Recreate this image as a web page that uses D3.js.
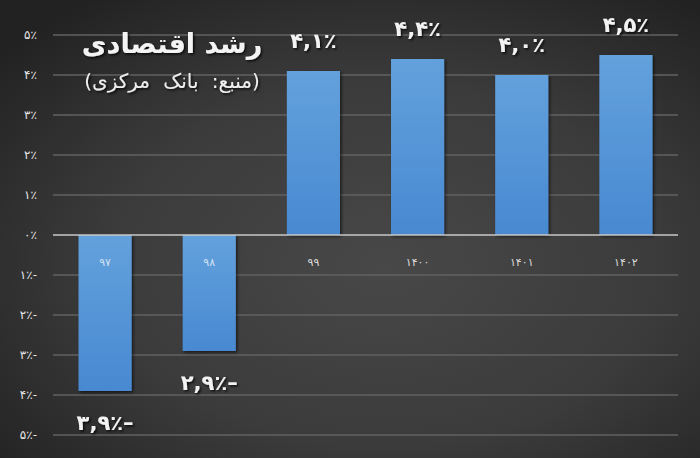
<!DOCTYPE html>
<html><head><meta charset="utf-8">
<script src="https://cdn.jsdelivr.net/npm/d3@7"></script>
<style>
html,body{margin:0;padding:0;background:#333;}
svg{display:block;}
</style></head>
<body>
<svg id="chart" width="700" height="458"></svg>
<script>
const categories = ["۹۷","۹۸","۹۹","۱۴۰۰","۱۴۰۱","۱۴۰۲"];
const values = [-3.9, -2.9, 4.1, 4.4, 4.0, 4.5];
const valueLabels = ["۳,۹٪–","۲,۹٪–","۴,۱٪","۴,۴٪","۴,۰٪","۴,۵٪"];
const tickValues = [5,4,3,2,1,0,-1,-2,-3,-4,-5];
const tickLabels = ["۵٪","۴٪","۳٪","۲٪","۱٪","۰٪","۱٪-","۲٪-","۳٪-","۴٪-","۵٪-"];
const title = "رشد اقتصادی";
const subtitle = "(منبع: بانک مرکزی)";

const W = 700, H = 458;
const svg = d3.select("#chart");
const defs = svg.append("defs");

const bg = defs.append("radialGradient").attr("id","bg")
  .attr("cx","55%").attr("cy","58%").attr("r","72%");
bg.append("stop").attr("offset","0%").attr("stop-color","#484848");
bg.append("stop").attr("offset","55%").attr("stop-color","#3b3b3b");
bg.append("stop").attr("offset","100%").attr("stop-color","#222222");

const barG = defs.append("linearGradient").attr("id","barg")
  .attr("x1",0).attr("y1",0).attr("x2",0).attr("y2",1);
barG.append("stop").attr("offset","0%").attr("stop-color","#63a1dc");
barG.append("stop").attr("offset","100%").attr("stop-color","#4889d1");

const sh = defs.append("filter").attr("id","shadow").attr("x","-20%").attr("y","-20%").attr("width","140%").attr("height","140%");
sh.append("feDropShadow").attr("dx",1.5).attr("dy",1.5).attr("stdDeviation",1.5).attr("flood-color","#000").attr("flood-opacity",0.6);

const tsh = defs.append("filter").attr("id","tshadow").attr("x","-20%").attr("y","-40%").attr("width","140%").attr("height","180%");
tsh.append("feDropShadow").attr("dx",1.5).attr("dy",1.5).attr("stdDeviation",1.2).attr("flood-color","#000").attr("flood-opacity",0.8);

svg.append("rect").attr("width",W).attr("height",H).attr("fill","url(#bg)");

const x = d3.scaleBand().domain(categories).range([53,678]).paddingInner(0.49).paddingOuter(0.245);
const y = d3.scaleLinear().domain([-5,5]).range([435,35]);

// gridlines
svg.append("g").selectAll("line").data(tickValues.filter(v=>v!==0)).join("line")
  .attr("x1",53).attr("x2",678)
  .attr("y1",d=>y(d)).attr("y2",d=>y(d))
  .attr("stroke","#626262").attr("stroke-width",1.5);

// y axis labels
const yAxis = d3.axisLeft(y).tickValues(tickValues)
  .tickFormat(d=>tickLabels[tickValues.indexOf(d)]).tickSize(0).tickPadding(0);
const ya = svg.append("g").attr("transform","translate(37,0)").call(yAxis);
ya.select(".domain").remove();
ya.selectAll("text")
  .attr("fill","#e6e6e6").attr("font-family","'DejaVu Sans', sans-serif").attr("font-size",12)
  .attr("direction","ltr").attr("unicode-bidi","bidi-override");

// bars
svg.append("g").selectAll("rect").data(values).join("rect")
  .attr("x",(d,i)=>x(categories[i]))
  .attr("width",x.bandwidth())
  .attr("y",d=>y(Math.max(0,d)))
  .attr("height",d=>Math.abs(y(d)-y(0)))
  .attr("fill","url(#barg)")
  .attr("filter","url(#shadow)");

// zero line
svg.append("line").attr("x1",53).attr("x2",678).attr("y1",y(0)).attr("y2",y(0))
  .attr("stroke","#c8c8c8").attr("stroke-width",1.5);

// category labels
svg.append("g").selectAll("text").data(categories).join("text")
  .attr("x",d=>x(d)+x.bandwidth()/2)
  .attr("y",y(0)+31)
  .attr("text-anchor","middle")
  .attr("fill",(d,i)=>values[i]<0?"#cfe0f2":"#dcdcdc")
  .attr("font-family","'DejaVu Sans', sans-serif").attr("font-size",11)
  .attr("letter-spacing",1)
  .text(d=>d);

// value labels
svg.append("g").selectAll("text").data(values).join("text")
  .attr("x",(d,i)=>x(categories[i])+x.bandwidth()/2)
  .attr("y",d=>d<0?y(d)+39:y(d)-23)
  .attr("text-anchor","middle")
  .attr("direction","ltr").attr("unicode-bidi","bidi-override")
  .attr("fill","#f2f2f2")
  .attr("font-family","'DejaVu Sans', sans-serif").attr("font-weight","bold").attr("font-size",21)
  .attr("filter","url(#tshadow)")
  .text((d,i)=>valueLabels[i]);

// title
svg.append("text").attr("x",172).attr("y",53).attr("text-anchor","middle")
  .attr("direction","rtl")
  .attr("fill","#f4f4f4").attr("font-family","'DejaVu Sans', sans-serif")
  .attr("font-weight","bold").attr("font-size",27)
  .attr("filter","url(#tshadow)")
  .text(title);
svg.append("text").attr("x",172).attr("y",88).attr("text-anchor","middle")
  .attr("direction","rtl")
  .attr("fill","#eeeeee").attr("font-family","'DejaVu Sans', sans-serif")
  .attr("font-size",20).attr("word-spacing",7)
  .attr("filter","url(#tshadow)")
  .text(subtitle);
</script>
</body></html>
